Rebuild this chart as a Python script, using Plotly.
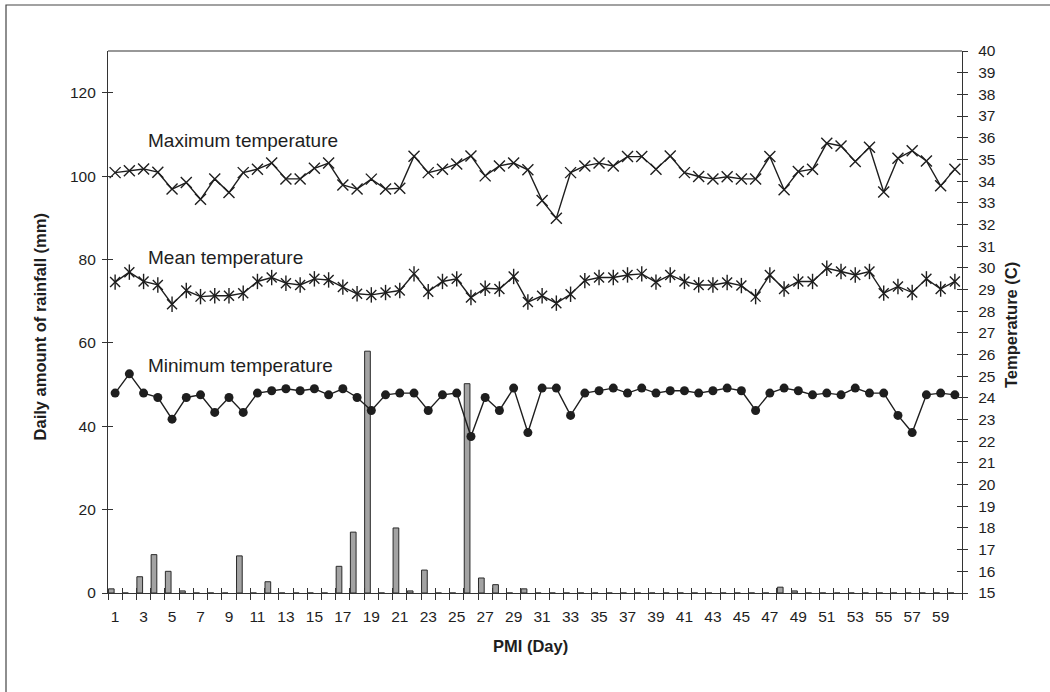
import plotly.graph_objects as go

days = list(range(1, 61))

rainfall_mm = [1.0, 0, 3.9, 9.2, 5.2, 0.5, 0, 0, 0, 8.9,
               0, 2.7, 0, 0, 0, 0, 6.4, 14.6, 58.0, 0,
               15.6, 0.5, 5.5, 0, 0, 50.2, 3.6, 2.0, 0, 1.0,
               0, 0, 0, 0, 0, 0, 0, 0, 0, 0,
               0, 0, 0, 0, 0, 0, 0, 1.4, 0.5, 0,
               0, 0, 0, 0, 0, 0, 0, 0, 0, 0]

max_temp = [34.39, 34.48, 34.56, 34.41, 33.63, 33.93, 33.16, 34.10, 33.47, 34.39,
            34.55, 34.83, 34.10, 34.10, 34.59, 34.83, 33.82, 33.63, 34.09, 33.63,
            33.67, 35.15, 34.39, 34.55, 34.79, 35.16, 34.24, 34.70, 34.83, 34.52,
            33.10, 32.29, 34.39, 34.70, 34.83, 34.70, 35.13, 35.13, 34.55, 35.16,
            34.39, 34.21, 34.10, 34.20, 34.10, 34.10, 35.13, 33.60, 34.44, 34.55,
            35.75, 35.62, 34.90, 35.56, 33.50, 35.05, 35.40, 34.93, 33.78, 34.55]

mean_temp = [29.34, 29.80, 29.37, 29.21, 28.32, 28.95, 28.67, 28.71, 28.71, 28.83,
             29.37, 29.55, 29.29, 29.21, 29.49, 29.44, 29.11, 28.80, 28.75, 28.86,
             28.95, 29.72, 28.90, 29.37, 29.49, 28.63, 29.06, 29.02, 29.60, 28.42,
             28.71, 28.37, 28.78, 29.41, 29.55, 29.55, 29.67, 29.72, 29.34, 29.67,
             29.37, 29.21, 29.21, 29.32, 29.18, 28.67, 29.67, 29.02, 29.37, 29.37,
             29.98, 29.83, 29.67, 29.83, 28.83, 29.14, 28.86, 29.49, 29.02, 29.37]

min_temp = [24.22, 25.11, 24.22, 24.02, 23.02, 24.02, 24.14, 23.33, 24.02, 23.33,
            24.22, 24.33, 24.42, 24.33, 24.42, 24.14, 24.42, 24.02, 23.42, 24.14,
            24.22, 24.22, 23.42, 24.14, 24.22, 22.22, 24.02, 23.42, 24.45, 22.40,
            24.45, 24.45, 23.19, 24.22, 24.33, 24.45, 24.22, 24.45, 24.22, 24.33,
            24.33, 24.22, 24.33, 24.45, 24.33, 23.42, 24.22, 24.45, 24.33, 24.14,
            24.22, 24.14, 24.45, 24.22, 24.22, 23.19, 22.40, 24.14, 24.22, 24.14]

x_tick_labels = [str(d) for d in range(1, 61, 2)]
rain_ticks = [0, 20, 40, 60, 80, 100, 120]
temp_ticks = list(range(15, 41))

FONT = "Liberation Sans, Arial, sans-serif"
INK = "#1e1e1e"
AX = "#333333"

fig = go.Figure()

fig.add_trace(go.Bar(
    x=days, y=rainfall_mm, width=0.4, offset=-0.47,
    marker=dict(color="#a3a3a3", line=dict(color="#2a2a2a", width=1)),
    yaxis="y", showlegend=False, name="Rainfall"))

line_style = dict(color=INK, width=1.4)

fig.add_trace(go.Scatter(
    x=days, y=max_temp, mode="lines+markers", yaxis="y2", line=line_style,
    marker=dict(symbol="x-thin-open", size=11, color=INK, line=dict(width=1.4, color=INK)),
    showlegend=False, name="Maximum temperature"))

fig.add_trace(go.Scatter(
    x=days, y=mean_temp, mode="lines+markers", yaxis="y2", line=line_style,
    marker=dict(symbol="x-thin-open", size=10, color=INK, line=dict(width=1.4, color=INK)),
    showlegend=False, name="Mean temperature"))
fig.add_trace(go.Scatter(
    x=days, y=mean_temp, mode="markers", yaxis="y2",
    marker=dict(symbol="line-ns-open", size=11, color=INK, line=dict(width=1.4, color=INK)),
    showlegend=False, hoverinfo="skip"))

fig.add_trace(go.Scatter(
    x=days, y=min_temp, mode="lines+markers", yaxis="y2", line=line_style,
    marker=dict(symbol="circle", size=9, color=INK),
    showlegend=False, name="Minimum temperature"))

# dummy traces so the overlay tick axes exist
fig.add_trace(go.Scatter(x=[None], y=[None], xaxis="x2", yaxis="y", showlegend=False, hoverinfo="skip"))
fig.add_trace(go.Scatter(x=[None], y=[None], xaxis="x", yaxis="y3", showlegend=False, hoverinfo="skip"))
fig.add_trace(go.Scatter(x=[None], y=[None], xaxis="x", yaxis="y4", showlegend=False, hoverinfo="skip"))

tickfont = dict(family=FONT, size=15.5, color=INK)

fig.update_layout(
    width=1050, height=692,
    margin=dict(l=108, r=88, t=51, b=99),
    paper_bgcolor="white", plot_bgcolor="white",
    font=dict(family=FONT, color=INK),
    xaxis=dict(
        range=[0.5, 60.5], tickmode="array",
        tickvals=list(range(1, 61, 2)), ticktext=x_tick_labels,
        ticks="outside", ticklen=6, tickcolor="rgba(0,0,0,0)",
        minor=dict(tick0=0.5, dtick=1, ticks="outside", ticklen=6, tickcolor=AX, tickwidth=1),
        showline=True, linecolor=AX, linewidth=1.2, showgrid=False, zeroline=False,
        tickfont=tickfont, ticklabelstandoff=3),
    xaxis2=dict(
        range=[0.5, 60.5], overlaying="x", anchor="y", side="bottom",
        tickmode="linear", tick0=0.5, dtick=1, ticks="inside", ticklen=5,
        tickcolor=AX, showticklabels=False, showline=False, showgrid=False, zeroline=False),
    yaxis=dict(
        range=[0, 130], tickmode="array", tickvals=rain_ticks,
        ticks="outside", ticklen=5, tickcolor=AX, showline=True, linecolor=AX,
        linewidth=1.2, showgrid=False, zeroline=False, tickfont=tickfont,
        ticklabelstandoff=3),
    yaxis3=dict(
        range=[0, 130], overlaying="y", anchor="x", side="left",
        tickmode="array", tickvals=rain_ticks, ticks="inside", ticklen=5,
        tickcolor=AX, showticklabels=False, showline=False, showgrid=False, zeroline=False),
    yaxis2=dict(
        range=[15, 40], overlaying="y", anchor="x", side="right",
        tickmode="array", tickvals=temp_ticks,
        ticks="outside", ticklen=5, tickcolor=AX, showline=True, linecolor=AX,
        linewidth=1.2, showgrid=False, zeroline=False, tickfont=tickfont,
        ticklabelstandoff=7),
    yaxis4=dict(
        range=[15, 40], overlaying="y", anchor="x", side="right",
        tickmode="array", tickvals=temp_ticks, ticks="inside", ticklen=5,
        tickcolor=AX, showticklabels=False, showline=False, showgrid=False, zeroline=False),
)

# top line of plot frame
fig.add_shape(type="line", xref="paper", yref="paper", x0=0, x1=1, y0=1, y1=1,
              line=dict(color=AX, width=1.2))
# outer figure border
fig.add_shape(type="rect", xref="paper", yref="paper",
              x0=(6 - 108) / 854, x1=(1062 - 108) / 854,
              y0=(593 - 704) / 542, y1=(593 - 5) / 542,
              line=dict(color="#444444", width=1.2), fillcolor="rgba(0,0,0,0)", layer="below")

label_font = dict(family=FONT, size=19, color=INK)
series_labels = [("Maximum temperature", 108.5), ("Mean temperature", 80.4), ("Minimum temperature", 54.6)]
for text, yv in series_labels:
    fig.add_annotation(text=text, x=3.2, y=yv, xref="x", yref="y", xanchor="left",
                       yanchor="middle", showarrow=False, font=label_font)

title_font = dict(family=FONT, size=16.5, color=INK)
fig.add_annotation(text="<b>Daily amount of rainfall (mm)</b>", x=(40 - 108) / 854, y=0.49,
                   xref="paper", yref="paper", textangle=-90, showarrow=False, font=title_font,
                   xanchor="center", yanchor="middle")
fig.add_annotation(text="<b>Temperature (C)</b>", x=(1011 - 108) / 854, y=(593 - 325) / 542,
                   xref="paper", yref="paper", textangle=-90, showarrow=False, font=title_font,
                   xanchor="center", yanchor="middle")
fig.add_annotation(text="<b>PMI (Day)</b>", x=(530 - 108) / 854, y=(593 - 646) / 542,
                   xref="paper", yref="paper", showarrow=False, font=title_font,
                   xanchor="center", yanchor="middle")

fig.write_html("out.html", config={"displayModeBar": False},
               post_script="document.body.style.margin='0';")
